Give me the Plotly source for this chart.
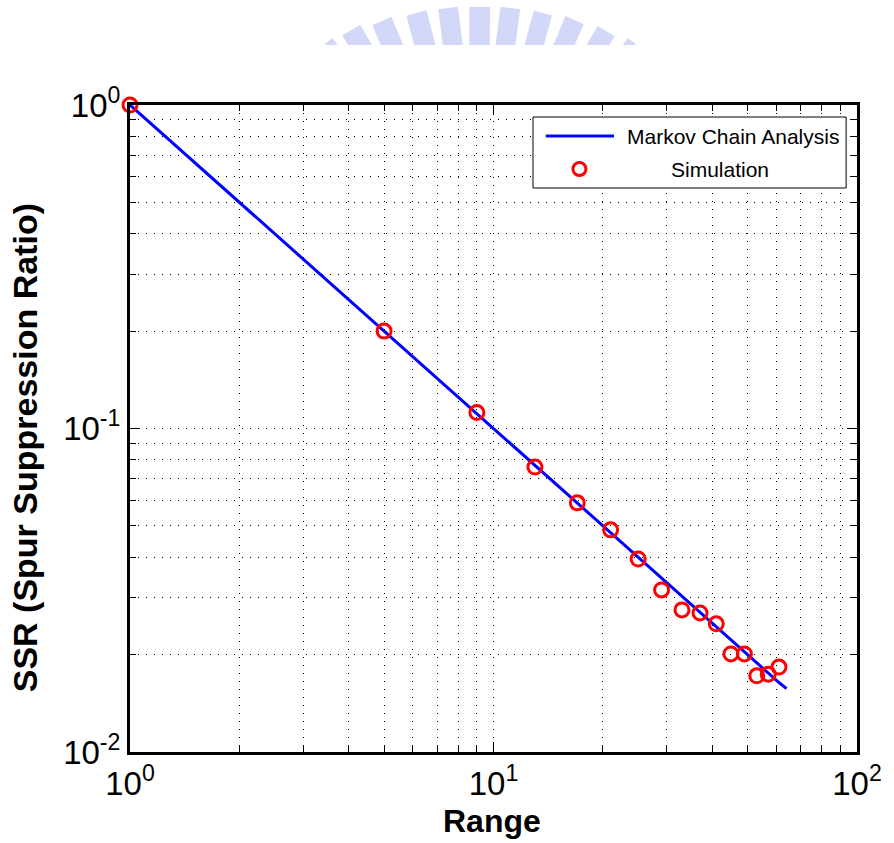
import plotly.graph_objects as go

# ---------------- data ----------------
range_line = [1, 5, 9, 13, 17, 21, 25, 29, 33, 37, 41, 45, 49, 53, 57, 61, 64]
ssr_line = [1.0, 0.200, 0.111, 0.0769, 0.0588, 0.0476, 0.0400, 0.0345, 0.0303,
            0.0270, 0.0244, 0.0222, 0.0204, 0.0189, 0.0175, 0.0164, 0.0157]

range_sim = [1, 5, 9, 13, 17, 21, 25, 29, 33, 37, 41, 45, 49, 53, 57, 61]
ssr_sim = [1.0, 0.200, 0.112, 0.076, 0.0589, 0.0486, 0.0395, 0.0317, 0.0275,
           0.0269, 0.0249, 0.0201, 0.0201, 0.0172, 0.0174, 0.0183]

x_tickvals = [1, 10, 100]
x_ticktext = ["10<sup>0</sup>", "10<sup>1</sup>", "10<sup>2</sup>"]
y_tickvals = [0.01, 0.1, 1]
y_ticktext = ["10<sup>-2</sup>", "10<sup>-1</sup>", "10<sup>0</sup>"]
x_minor = [2, 3, 4, 5, 6, 7, 8, 9, 20, 30, 40, 50, 60, 70, 80, 90]
y_minor = [0.02, 0.03, 0.04, 0.05, 0.06, 0.07, 0.08, 0.09,
           0.2, 0.3, 0.4, 0.5, 0.6, 0.7, 0.8, 0.9]

legend_labels = ["Markov Chain Analysis", "Simulation"]
x_title = "Range"
y_title = "SSR (Spur Suppression Ratio)"

# ---------------- layout geometry ----------------
W, H = 894, 843
L, R, T, B = 130, 866, 105, 752


def px(x):
    return (x - L) / (R - L)


def py(y):
    return (B - y) / (B - T)


FONT = "Liberation Sans, Arial, sans-serif"

fig = go.Figure()
fig.add_trace(go.Scatter(x=range_line, y=ssr_line, mode="lines",
                         line=dict(color="rgb(0,0,255)", width=3),
                         name=legend_labels[0], showlegend=False, cliponaxis=False))
fig.add_trace(go.Scatter(x=range_sim, y=ssr_sim, mode="markers",
                         marker=dict(symbol="circle-open", size=14, color="rgb(255,0,0)",
                                     line=dict(width=3, color="rgb(255,0,0)")),
                         name=legend_labels[1], showlegend=False, cliponaxis=False))

axis_common = dict(
    type="log",
    showline=True, linecolor="black", linewidth=3, mirror="allticks",
    ticks="inside", ticklen=10, tickwidth=1, tickcolor="black",
    showgrid=True, gridcolor="black", gridwidth=1, griddash="1px,7px",
    zeroline=False,
    tickfont=dict(family=FONT, size=33, color="black"),
)

fig.update_xaxes(**axis_common, range=[0, 2], tickmode="array",
                 tickvals=x_tickvals, ticktext=x_ticktext,
                 minor=dict(tickmode="array", tickvals=x_minor, ticks="inside", ticklen=6,
                            tickcolor="black", showgrid=True, gridcolor="black",
                            gridwidth=1, griddash="1px,7px"))
fig.update_yaxes(**axis_common, range=[-2, 0], tickmode="array",
                 tickvals=y_tickvals, ticktext=y_ticktext,
                 minor=dict(tickmode="array", tickvals=y_minor, ticks="inside", ticklen=6,
                            tickcolor="black", showgrid=True, gridcolor="black",
                            gridwidth=1, griddash="1px,7px"))

shapes = []
annotations = []

# watermark (faint logo at top)
wm_color = "rgb(212,216,248)"
wm_cx, wm_cy = 483, 250
bars = [(331, 41, 10), (354, 30, 21), (385, 21, 21), (420, 13, 21), (452, 8, 20),
        (484, 7, 21), (515, 8, 20), (548, 13, 19), (580, 20, 20), (612, 31, 20),
        (638, 41, 10)]
for cx, ty, w in bars:
    dx, dy = cx - wm_cx, ty - wm_cy
    n = (dx * dx + dy * dy) ** 0.5
    ux, uy = dx / n, dy / n
    nx, ny = -uy, ux
    tl = (cx - nx * w / 2, ty - ny * w / 2)
    tr = (cx + nx * w / 2, ty + ny * w / 2)
    bottoms = []
    for c in (tr, tl):
        s = (45 - c[1]) / (-uy)
        bottoms.append((c[0] - ux * s, 45))
    poly = [tl, tr] + bottoms
    path = "M " + " L ".join(f"{px(a):.5f},{py(b):.5f}" for a, b in poly) + " Z"
    shapes.append(dict(type="path", path=path, xref="paper", yref="paper",
                       fillcolor=wm_color, line=dict(width=0), layer="above"))

# legend box
shapes.append(dict(type="rect", xref="paper", yref="paper",
                   x0=px(538), x1=px(855), y0=py(188), y1=py(117),
                   fillcolor="white", line=dict(color="black", width=1), layer="above"))
shapes.append(dict(type="line", xref="paper", yref="paper",
                   x0=px(551), x1=px(620), y0=py(136), y1=py(136),
                   line=dict(color="rgb(0,0,255)", width=3), layer="above"))
shapes.append(dict(type="circle", xref="paper", yref="paper",
                   xsizemode="pixel", ysizemode="pixel",
                   xanchor=px(585), yanchor=py(169), x0=-6.5, x1=6.5, y0=-6.5, y1=6.5,
                   line=dict(color="rgb(255,0,0)", width=3), layer="above"))
annotations.append(dict(text=legend_labels[0], xref="paper", yref="paper",
                        x=px(631), y=py(136), xanchor="left", yanchor="middle",
                        showarrow=False, font=dict(family=FONT, size=21, color="black")))
annotations.append(dict(text=legend_labels[1], xref="paper", yref="paper",
                        x=px(727), y=py(169), xanchor="center", yanchor="middle",
                        showarrow=False, font=dict(family=FONT, size=21, color="black")))

# axis titles
annotations.append(dict(text=f"<b>{x_title}</b>", xref="paper", yref="paper",
                        x=px(496), y=py(821), xanchor="center", yanchor="middle",
                        showarrow=False, font=dict(family=FONT, size=32, color="black")))
annotations.append(dict(text=f"<b>{y_title}</b>", xref="paper", yref="paper",
                        x=px(24), y=py(448), xanchor="center", yanchor="middle",
                        textangle=-90, showarrow=False,
                        font=dict(family=FONT, size=34, color="black")))

fig.update_layout(
    width=W, height=H,
    margin=dict(l=L, r=W - R, t=T, b=H - B, pad=0),
    paper_bgcolor="white", plot_bgcolor="white",
    showlegend=False,
    shapes=shapes, annotations=annotations,
)

fig.write_html("out.html")
